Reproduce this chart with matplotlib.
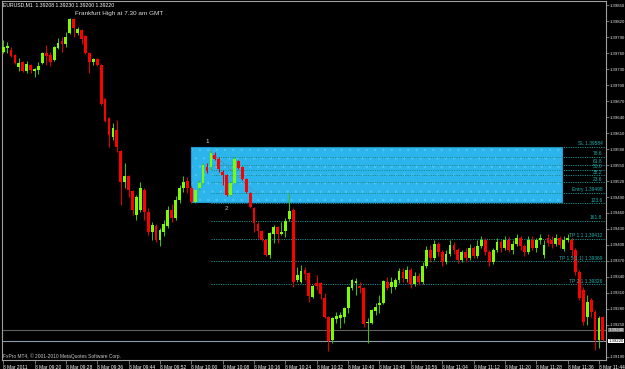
import matplotlib
matplotlib.use('Agg')
import matplotlib.pyplot as plt
import matplotlib.transforms as mtransforms
from matplotlib.patches import Rectangle
import numpy as np

# EURUSD M1 bars, 8 Mar 2011 09:12 .. 11:45
opens = [1.39762, 1.39769, 1.39766, 1.39756, 1.39734, 1.39743, 1.39726, 1.39737, 1.39726, 1.39728,
         1.39741, 1.39760, 1.39756, 1.39747, 1.39769, 1.39782, 1.39777, 1.39797, 1.39824, 1.39797,
         1.39803, 1.39792, 1.39760, 1.39743, 1.39749, 1.39737, 1.39674, 1.39638, 1.39602, 1.39616,
         1.39576, 1.39518, 1.39529, 1.39501, 1.39456, 1.39466, 1.39503, 1.39462, 1.39424, 1.39436,
         1.39409, 1.39424, 1.39436, 1.39466, 1.39451, 1.39484, 1.39507, 1.39520, 1.39507, 1.39481,
         1.39507, 1.39516, 1.39546, 1.39546, 1.39569, 1.39561, 1.39537, 1.39531, 1.39494, 1.39516,
         1.39557, 1.39546, 1.39524, 1.39497, 1.39469, 1.39439, 1.39426, 1.39409, 1.39381, 1.39421,
         1.39434, 1.39421, 1.39426, 1.39449, 1.39466, 1.39334, 1.39331, 1.39353, 1.39347, 1.39302,
         1.39329, 1.39329, 1.39301, 1.39265, 1.39222, 1.39261, 1.39263, 1.39265, 1.39282, 1.39319,
         1.39329, 1.39323, 1.39319, 1.39254, 1.39254, 1.39276, 1.39287, 1.39291, 1.39331, 1.39321,
         1.39321, 1.39334, 1.39349, 1.39336, 1.39353, 1.39327, 1.39342, 1.39331, 1.39361, 1.39391,
         1.39376, 1.39402, 1.39387, 1.39368, 1.39383, 1.39400, 1.39391, 1.39372, 1.39387, 1.39376,
         1.39394, 1.39379, 1.39398, 1.39409, 1.39387, 1.39368, 1.39391, 1.39406, 1.39394, 1.39409,
         1.39391, 1.39402, 1.39413, 1.39398, 1.39387, 1.39409, 1.39394, 1.39409, 1.39381, 1.39413,
         1.39409, 1.39402, 1.39413, 1.39392, 1.39409, 1.39409, 1.39391, 1.39349, 1.39316, 1.39265,
         1.39297, 1.39274, 1.39222, 1.39265]
highs = [1.39784, 1.39781, 1.39771, 1.39758, 1.39751, 1.39745, 1.39745, 1.39739, 1.39732, 1.39743,
         1.39762, 1.39775, 1.39762, 1.39773, 1.39788, 1.39790, 1.39799, 1.39826, 1.39826, 1.39809,
         1.39805, 1.39794, 1.39762, 1.39751, 1.39751, 1.39739, 1.39676, 1.39640, 1.39629, 1.39634,
         1.39578, 1.39554, 1.39531, 1.39503, 1.39494, 1.39518, 1.39507, 1.39469, 1.39443, 1.39439,
         1.39432, 1.39447, 1.39473, 1.39477, 1.39492, 1.39512, 1.39529, 1.39527, 1.39511, 1.39505,
         1.39522, 1.39554, 1.39554, 1.39578, 1.39574, 1.39565, 1.39541, 1.39533, 1.39518, 1.39565,
         1.39559, 1.39548, 1.39526, 1.39499, 1.39471, 1.39443, 1.39428, 1.39411, 1.39424, 1.39437,
         1.39436, 1.39443, 1.39451, 1.39497, 1.39469, 1.39359, 1.39362, 1.39359, 1.39349, 1.39325,
         1.39344, 1.39331, 1.39310, 1.39267, 1.39265, 1.39274, 1.39274, 1.39284, 1.39323, 1.39336,
         1.39338, 1.39331, 1.39321, 1.39263, 1.39280, 1.39291, 1.39306, 1.39334, 1.39340, 1.39340,
         1.39338, 1.39357, 1.39357, 1.39361, 1.39357, 1.39349, 1.39347, 1.39368, 1.39398, 1.39400,
         1.39409, 1.39406, 1.39391, 1.39391, 1.39409, 1.39406, 1.39394, 1.39391, 1.39394, 1.39402,
         1.39398, 1.39409, 1.39417, 1.39413, 1.39391, 1.39394, 1.39413, 1.39409, 1.39417, 1.39415,
         1.39409, 1.39421, 1.39417, 1.39402, 1.39417, 1.39417, 1.39413, 1.39421, 1.39409, 1.39421,
         1.39417, 1.39421, 1.39417, 1.39417, 1.39421, 1.39413, 1.39394, 1.39353, 1.39321, 1.39306,
         1.39301, 1.39278, 1.39267, 1.39267]
lows = [1.39760, 1.39760, 1.39752, 1.39739, 1.39726, 1.39724, 1.39722, 1.39722, 1.39715, 1.39721,
        1.39739, 1.39737, 1.39736, 1.39745, 1.39767, 1.39762, 1.39771, 1.39796, 1.39790, 1.39794,
        1.39777, 1.39758, 1.39722, 1.39737, 1.39736, 1.39662, 1.39631, 1.39584, 1.39597, 1.39574,
        1.39475, 1.39507, 1.39490, 1.39456, 1.39447, 1.39462, 1.39447, 1.39419, 1.39409, 1.39406,
        1.39398, 1.39417, 1.39432, 1.39443, 1.39447, 1.39479, 1.39499, 1.39497, 1.39479, 1.39479,
        1.39503, 1.39514, 1.39535, 1.39541, 1.39559, 1.39537, 1.39512, 1.39492, 1.39492, 1.39514,
        1.39542, 1.39522, 1.39497, 1.39469, 1.39424, 1.39413, 1.39407, 1.39379, 1.39376, 1.39404,
        1.39404, 1.39419, 1.39415, 1.39445, 1.39321, 1.39331, 1.39329, 1.39334, 1.39293, 1.39301,
        1.39316, 1.39299, 1.39263, 1.39201, 1.39216, 1.39254, 1.39244, 1.39254, 1.39272, 1.39316,
        1.39306, 1.39310, 1.39246, 1.39216, 1.39252, 1.39269, 1.39272, 1.39289, 1.39316, 1.39310,
        1.39317, 1.39329, 1.39331, 1.39331, 1.39319, 1.39323, 1.39325, 1.39327, 1.39357, 1.39368,
        1.39372, 1.39379, 1.39361, 1.39364, 1.39379, 1.39383, 1.39366, 1.39368, 1.39368, 1.39372,
        1.39376, 1.39376, 1.39394, 1.39381, 1.39361, 1.39364, 1.39387, 1.39387, 1.39391, 1.39387,
        1.39383, 1.39398, 1.39391, 1.39379, 1.39383, 1.39391, 1.39387, 1.39402, 1.39376, 1.39398,
        1.39394, 1.39398, 1.39394, 1.39388, 1.39406, 1.39379, 1.39344, 1.39297, 1.39250, 1.39250,
        1.39265, 1.39203, 1.39207, 1.39220]
closes = [1.39771, 1.39773, 1.39754, 1.39741, 1.39741, 1.39726, 1.39739, 1.39728, 1.39730, 1.39736,
          1.39760, 1.39754, 1.39743, 1.39771, 1.39779, 1.39777, 1.39790, 1.39824, 1.39807, 1.39805,
          1.39786, 1.39760, 1.39743, 1.39749, 1.39737, 1.39664, 1.39632, 1.39606, 1.39619, 1.39584,
          1.39518, 1.39529, 1.39503, 1.39466, 1.39490, 1.39507, 1.39462, 1.39424, 1.39437, 1.39409,
          1.39428, 1.39439, 1.39466, 1.39451, 1.39484, 1.39507, 1.39518, 1.39507, 1.39481, 1.39503,
          1.39516, 1.39550, 1.39539, 1.39572, 1.39561, 1.39542, 1.39531, 1.39494, 1.39516, 1.39561,
          1.39544, 1.39524, 1.39499, 1.39471, 1.39441, 1.39426, 1.39409, 1.39381, 1.39422, 1.39434,
          1.39421, 1.39424, 1.39445, 1.39464, 1.39331, 1.39344, 1.39351, 1.39346, 1.39304, 1.39323,
          1.39323, 1.39308, 1.39265, 1.39220, 1.39263, 1.39267, 1.39269, 1.39282, 1.39321, 1.39334,
          1.39332, 1.39319, 1.39252, 1.39256, 1.39278, 1.39284, 1.39291, 1.39332, 1.39319, 1.39331,
          1.39334, 1.39351, 1.39338, 1.39353, 1.39327, 1.39342, 1.39331, 1.39361, 1.39391, 1.39376,
          1.39402, 1.39387, 1.39368, 1.39383, 1.39400, 1.39391, 1.39372, 1.39387, 1.39376, 1.39394,
          1.39379, 1.39398, 1.39409, 1.39387, 1.39368, 1.39391, 1.39406, 1.39394, 1.39409, 1.39391,
          1.39402, 1.39413, 1.39398, 1.39387, 1.39409, 1.39394, 1.39409, 1.39413, 1.39400, 1.39404,
          1.39402, 1.39413, 1.39400, 1.39409, 1.39413, 1.39391, 1.39349, 1.39301, 1.39256, 1.39293,
          1.39274, 1.39222, 1.39263, 1.39222]

time_ticks = [0, 8, 16, 24, 32, 40, 48, 56, 64, 72, 80, 88, 96, 104, 112, 120, 128, 136, 144, 152]
time_labels = ['8 Mar 2011', '8 Mar 09:20', '8 Mar 09:28', '8 Mar 09:36', '8 Mar 09:44',
               '8 Mar 09:52', '8 Mar 10:00', '8 Mar 10:08', '8 Mar 10:16', '8 Mar 10:24',
               '8 Mar 10:32', '8 Mar 10:40', '8 Mar 10:48', '8 Mar 10:56', '8 Mar 11:04',
               '8 Mar 11:12', '8 Mar 11:20', '8 Mar 11:28', '8 Mar 11:36', '8 Mar 11:44']
price_ticks = [1.39850, 1.39820, 1.39790, 1.39760, 1.39730, 1.39700, 1.39670, 1.39640,
               1.39610, 1.39580, 1.39550, 1.39520, 1.39490, 1.39460, 1.39430, 1.39400,
               1.39370, 1.39340, 1.39310, 1.39280, 1.39250, 1.39190]

# fibo / trade levels drawn by the trader
fib_prices = [1.39584, 1.39566, 1.39551, 1.39541, 1.39531, 1.39518, 1.39498,
              1.39478, 1.39445, 1.39412, 1.39369, 1.39326]
fib_labels = ['SL 1.39584', '78.6', '61.8', '50.0', '38.2', '23.6', 'Entry 1.39498',
              '123.6', '161.8', 'TP 1:1 1.39412', 'TP 1.5(1:1) 1.39369', 'TP 2:1 1.39326']
fib_start = 53
box_bars = (47.8, 142.6)
box_prices = (1.39481, 1.39584)
trend_bars = [53, 65]
trend_prices = [1.39575, 1.39494]
wave_bars = [52, 57, 60]
wave_prices = [1.39594, 1.39468, 1.39573]
wave_labels = ['1', '2', '3']
bid, ask = 1.39220, 1.39240

FONT = 'Liberation Sans'
up_body, dn_body = '#7CFC00', '#FF0000'
up_wick, dn_wick = '#44C000', '#E00000'
grid_col = '#A0A0A0'

fig = plt.figure(figsize=(6.25, 3.69), dpi=100, facecolor='black')
ax = fig.add_axes([2/625, 9/369, 604/625, 359/369])
ax.set_facecolor('black')

x = np.arange(len(opens))
o = np.array(opens); h = np.array(highs); l = np.array(lows); c = np.array(closes)
up = c >= o

# rectangle zone (dotted light-blue fill)
plt.rcParams['hatch.linewidth'] = 0.4
ax.add_patch(Rectangle((box_bars[0], box_prices[0]), box_bars[1] - box_bars[0],
                       box_prices[1] - box_prices[0], facecolor='#2CB4EC',
                       edgecolor='#58C6F2', hatch='..', lw=0, zorder=1))
ax.add_patch(Rectangle((box_bars[0], box_prices[0]), box_bars[1] - box_bars[0],
                       box_prices[1] - box_prices[0], facecolor='none',
                       edgecolor='#1E9AD6', lw=0.8, zorder=1))

# level lines
for p in fib_prices:
    ax.plot([fib_start, 160], [p, p], color='#1C8C8C', lw=0.7,
            linestyle=(0, (1.2, 1.2)), zorder=2)
ax.plot(trend_bars, trend_prices, color='#5E8296', lw=0.7, linestyle=(0, (1.2, 1.2)), zorder=2)

# bid / ask lines
ax.axhline(ask, color='#606060', lw=0.8, zorder=2)
ax.axhline(bid, color='#8C9CAC', lw=0.8, zorder=2)

# candles
ax.vlines(x[up], l[up], h[up], color=up_wick, lw=0.75, zorder=3)
ax.vlines(x[~up], l[~up], h[~up], color=dn_wick, lw=0.75, zorder=3)
body = np.maximum(np.abs(c - o), 0.000015)
ax.bar(x[up], body[up], bottom=o[up], width=0.72, color=up_body, lw=0, zorder=4)
ax.bar(x[~up], -body[~up], bottom=o[~up], width=0.72, color=dn_body, lw=0, zorder=4)

# level labels
for p, t in zip(fib_prices, fib_labels):
    ax.text(152.9, p + 0.00001, t, ha='right', va='bottom', color='#22B0B0',
            fontsize=3.5, family=FONT, zorder=5)
wave_cols = ['#E0E0E0', '#C0C0C0', '#30C8C8']
for b, p, t, col in zip(wave_bars, wave_prices, wave_labels, wave_cols):
    ax.text(b, p, t, ha='center', va='center', color=col, fontsize=4.5, family=FONT, zorder=5)

ax.set_xlim(-0.3, 153.8)
ax.set_ylim(1.39184, 1.39858)

for s in ax.spines.values():
    s.set_color(grid_col)
    s.set_linewidth(0.8)

ax.yaxis.tick_right()
ax.set_yticks(price_ticks)
ax.set_yticklabels(['%.5f' % p for p in price_ticks])
ax.tick_params(axis='y', colors=grid_col, labelcolor='#E8E8E8', labelsize=3.1,
               length=2, width=0.5, pad=0.8)
ax.set_xticks(time_ticks)
ax.set_xticklabels(time_labels)
ax.tick_params(axis='x', colors=grid_col, labelcolor='white', labelsize=3.5,
               length=3, width=0.5, pad=0.5)
for lbl in ax.get_xticklabels() + ax.get_yticklabels():
    lbl.set_family(FONT)
for lbl in ax.get_xticklabels():
    lbl.set_horizontalalignment('left')

# price boxes for bid / ask
tr = mtransforms.blended_transform_factory(ax.transAxes, ax.transData)
ax.text(1.004, ask, '%.5f' % ask, transform=tr, ha='left', va='center', fontsize=3.1,
        family=FONT, color='white', bbox=dict(boxstyle='square,pad=0.05', fc='#707070', ec='none'),
        clip_on=False, zorder=6)
ax.text(1.004, bid, '%.5f' % bid, transform=tr, ha='left', va='center', fontsize=3.1,
        family=FONT, color='black', bbox=dict(boxstyle='square,pad=0.05', fc='white', ec='none'),
        clip_on=False, zorder=6)

# header and captions
fig.text(3/625, 1 - 5/369, 'EURUSD,M1  1.39208 1.39230 1.39200 1.39220', color='white',
         fontsize=3.7, family=FONT, va='center', ha='left')
fig.text(75/625, 1 - 14/369, 'Frankfurt High at 7.30 am GMT', color='#DCDCDC',
         fontsize=4.6, family=FONT, va='center', ha='left')
fig.text(3/625, 1 - 356/369, 'FxPro MT4, \u00a9 2001-2010 MetaQuotes Software Corp.',
         color='#C8C8C8', fontsize=3.5, family=FONT, va='center', ha='left')

fig.savefig('out.png', dpi=100, facecolor='black')
